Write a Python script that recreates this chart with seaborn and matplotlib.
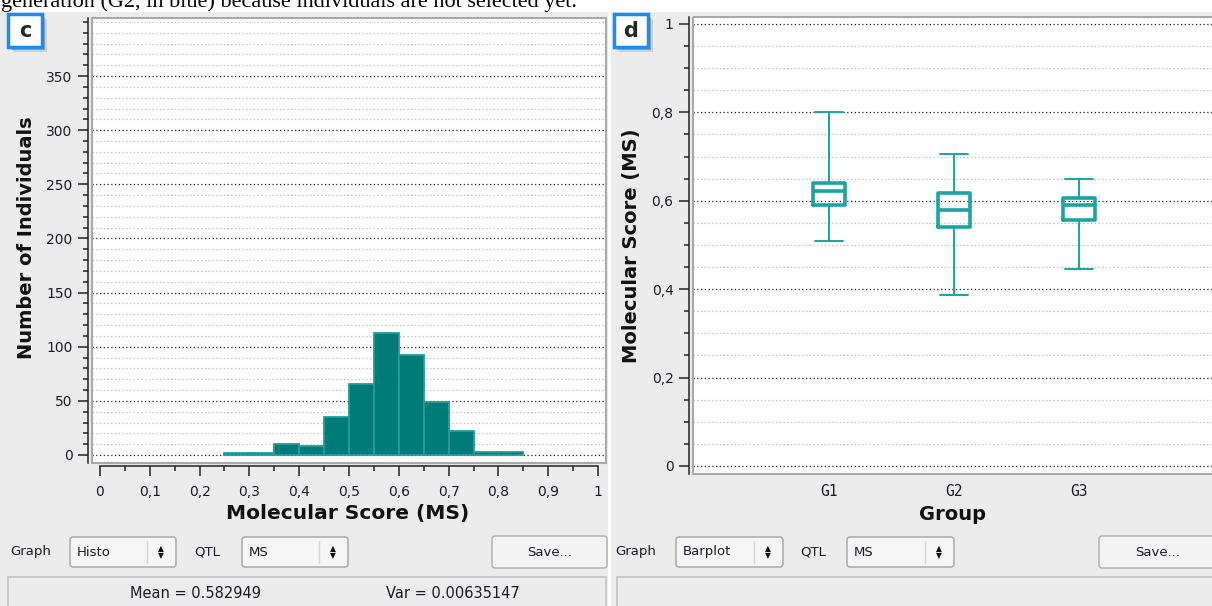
import numpy as np
import pandas as pd
import matplotlib
matplotlib.use('Agg')
import matplotlib.pyplot as plt
from matplotlib.patches import Rectangle, FancyBboxPatch
from matplotlib.ticker import FixedLocator, FixedFormatter, MultipleLocator
import seaborn as sns

# panel c: histogram of the molecular score
ms_bin_edges = [0.25, 0.30, 0.35, 0.40, 0.45, 0.50, 0.55, 0.60, 0.65, 0.70, 0.75, 0.80, 0.85]
ms_bin_mids = [0.275, 0.325, 0.375, 0.425, 0.475, 0.525, 0.575, 0.625, 0.675, 0.725, 0.775, 0.825]
ms_counts = [2, 2, 10, 8, 35, 66, 113, 92, 49, 22, 3, 3]
hist_xticks = [0, 0.1, 0.2, 0.3, 0.4, 0.5, 0.6, 0.7, 0.8, 0.9, 1]
hist_xticklabels = ['0', '0,1', '0,2', '0,3', '0,4', '0,5', '0,6', '0,7', '0,8', '0,9', '1']
hist_yticks = [0, 50, 100, 150, 200, 250, 300, 350]

# panel d: box per group (min, q1, median, q3, max)
groups = ['G1', 'G2', 'G3']
g1_ms = [0.509, 0.590, 0.622, 0.640, 0.800]
g2_ms = [0.387, 0.541, 0.579, 0.618, 0.706]
g3_ms = [0.446, 0.557, 0.591, 0.606, 0.649]
box_yticks = [0, 0.2, 0.4, 0.6, 0.8, 1]
box_yticklabels = ['0', '0,2', '0,4', '0,6', '0,8', '1']

stats_mean = 'Mean = 0.582949'
stats_var = 'Var = 0.00635147'
caption = 'generation (G2, in blue) because individuals are not selected yet.'

sns.set_style('white')
plt.rcParams['font.family'] = ['DejaVu Sans']

W, H = 1212, 606
GRAY = '#ececec'
TEAL = '#007b78'
TEAL_LIGHT = '#17a6a1'
INK = '#1c1c28'

fig = plt.figure(figsize=(W / 100, H / 100), dpi=100, facecolor=GRAY)


def px_rect(x0, y0, x1, y1):
    return [x0 / W, 1 - y1 / H, (x1 - x0) / W, (y1 - y0) / H]


def style_axis(ax):
    ax.set_facecolor('white')
    ax.grid(False)
    ax.grid(which='major', axis='y', color='#1e1e1e', linestyle=(0, (1, 2)), linewidth=0.9)
    ax.grid(which='minor', axis='y', color='#b9b9b9', linestyle=(0, (1, 2)), linewidth=0.9)
    ax.set_axisbelow(True)
    for s in ['top', 'right']:
        ax.spines[s].set_visible(False)
    ax.spines['left'].set_position(('outward', 3))
    ax.spines['left'].set_color('#222222')
    ax.spines['left'].set_linewidth(1.1)
    ax.tick_params(which='major', direction='out', length=7, width=1.1, color='#222222',
                   labelsize=10, labelcolor=INK, left=True, bottom=True)
    ax.tick_params(which='minor', direction='out', length=3.5, width=1.1, color='#222222',
                   left=True, bottom=True)
    ax.tick_params(axis='y', pad=4)


# ---- panel c: histogram
ax1 = fig.add_axes(px_rect(92, 18, 606, 463))
hist_df = pd.DataFrame({'MS': ms_bin_mids, 'count': ms_counts})
sns.histplot(data=hist_df, x='MS', weights='count', bins=ms_bin_edges, ax=ax1,
             color=TEAL, alpha=1, edgecolor='#1f9e9a', linewidth=1.3)
style_axis(ax1)
ax1.set_xlim(-0.016, 1.016)
ax1.set_ylim(-7.4, 403.6)
ax1.xaxis.set_major_locator(FixedLocator(hist_xticks))
ax1.xaxis.set_major_formatter(FixedFormatter(hist_xticklabels))
ax1.xaxis.set_minor_locator(MultipleLocator(0.05))
ax1.yaxis.set_major_locator(FixedLocator(hist_yticks))
ax1.yaxis.set_minor_locator(MultipleLocator(10))
ax1.spines['bottom'].set_position(('outward', 2.5))
ax1.spines['bottom'].set_bounds(0, 1)
ax1.spines['bottom'].set_color('#222222')
ax1.spines['bottom'].set_linewidth(1.1)
ax1.tick_params(axis='x', pad=6)
ax1.set_xlabel('Molecular Score (MS)', fontsize=14.5, fontweight='bold', color='#111111', va='center')
ax1.xaxis.set_label_coords((348 - 92) / 514, (463 - 513) / 445)
ax1.set_ylabel('Number of Individuals', fontsize=14, fontweight='bold', color='#111111', va='center')
ax1.yaxis.set_label_coords((27 - 92) / 514, (463 - 238) / 445)

# ---- panel d: box plot
ax2 = fig.add_axes(px_rect(693, 17, 1212, 474))
box_df = pd.DataFrame({'Group': np.repeat(groups, len(g1_ms)), 'MS': g1_ms + g2_ms + g3_ms})
sns.boxplot(data=box_df, x='Group', y='MS', ax=ax2, whis=(0, 100), width=0.26, fill=False,
            color=TEAL_LIGHT, linewidth=2.6, showfliers=False, capwidths=0.22,
            whiskerprops={'linewidth': 1.4}, capprops={'linewidth': 1.4})
style_axis(ax2)
ax2.set_xlim(-1.088, 3.064)
ax2.set_ylim(-0.0181, 1.0158)
ax2.yaxis.set_major_locator(FixedLocator(box_yticks))
ax2.yaxis.set_major_formatter(FixedFormatter(box_yticklabels))
ax2.yaxis.set_minor_locator(MultipleLocator(0.05))
ax2.spines['bottom'].set_visible(False)
ax2.tick_params(axis='x', which='both', length=0, pad=7)
for lbl in ax2.get_xticklabels():
    lbl.set_family('DejaVu Sans Mono')
    lbl.set_fontsize(10.5)
ax2.set_xlabel('Group', fontsize=14, fontweight='bold', color='#111111', va='center')
ax2.xaxis.set_label_coords((952 - 693) / 519, (474 - 514) / 457)
ax2.set_ylabel('Molecular Score (MS)', fontsize=14, fontweight='bold', color='#111111', va='center')
ax2.yaxis.set_label_coords((632 - 693) / 519, (474 - 246) / 457)

# ---- window chrome drawn in pixel coordinates
ov = fig.add_axes([0, 0, 1, 1])
ov.set_xlim(0, W)
ov.set_ylim(H, 0)
ov.axis('off')

ov.add_patch(Rectangle((0, 0), W, 12, facecolor='white', edgecolor='none'))
ov.text(1, 7, caption, family='Liberation Serif', fontsize=16, va='baseline', ha='left', color='black')
ov.add_patch(Rectangle((608, 12), 3, H, facecolor='white', edgecolor='none'))

ov.add_patch(Rectangle((92, 18), 514, 445, fill=False, edgecolor='#a9a9a9', lw=1.5))
ov.add_patch(Rectangle((693, 17), 525, 457, fill=False, edgecolor='#a9a9a9', lw=1.5))


def panel_tag(x0, y0, letter):
    for off, a in [(5, 0.25), (3, 0.5)]:
        ov.add_patch(Rectangle((x0 + off, y0 + off), 34, 33, facecolor='#7a7a7a', alpha=a, edgecolor='none'))
    ov.add_patch(Rectangle((x0, y0), 34, 33, facecolor='white', edgecolor='#1c8cf2', lw=2.5))
    ov.text(x0 + 17, y0 + 17, letter, ha='center', va='center', fontsize=15, fontweight='bold')


def combo(x0, x1, label):
    y0, y1 = 537, 567
    ym = (y0 + y1) / 2
    ov.add_patch(FancyBboxPatch((x0, y0), x1 - x0, y1 - y0, boxstyle='round,pad=0,rounding_size=3',
                                facecolor='#f6f6f6', edgecolor='#a3a3a3', lw=1))
    ov.plot([x1 - 29, x1 - 29], [y0 + 4, y1 - 4], color='#d6d6d6', lw=1)
    ov.text(x0 + 7, ym, label, va='center', ha='left', fontsize=9.5, color=INK)
    ov.text(x1 - 15, ym - 3.5, '\u25b2', ha='center', va='center', fontsize=5.5, color='#111111')
    ov.text(x1 - 15, ym + 3.5, '\u25bc', ha='center', va='center', fontsize=5.5, color='#111111')


def button(x0, x1, label):
    ov.add_patch(FancyBboxPatch((x0, 536), x1 - x0, 32, boxstyle='round,pad=0,rounding_size=3',
                                facecolor='#f4f4f4', edgecolor='#acacac', lw=1))
    ov.text((x0 + x1) / 2, 552, label, ha='center', va='center', fontsize=9.5, color=INK)


panel_tag(8, 14, 'c')
panel_tag(614, 14, 'd')

ov.text(10, 552, 'Graph', va='center', fontsize=9.5, color=INK)
combo(70, 176, 'Histo')
ov.text(194, 552, 'QTL', va='center', fontsize=9.5, color=INK)
combo(242, 348, 'MS')
button(492, 607, 'Save...')
ov.add_patch(Rectangle((8, 577), 598, 40, facecolor=GRAY, edgecolor='#c4c4c4', lw=1.2))
ov.text(195, 594, stats_mean, ha='center', va='center', fontsize=10.5, color=INK)
ov.text(453, 594, stats_var, ha='center', va='center', fontsize=10.5, color=INK)

ov.text(615, 552, 'Graph', va='center', fontsize=9.5, color=INK)
combo(676, 783, 'Barplot')
ov.text(800, 552, 'QTL', va='center', fontsize=9.5, color=INK)
combo(847, 954, 'MS')
button(1099, 1216, 'Save...')
ov.add_patch(Rectangle((617, 577), 600, 40, facecolor=GRAY, edgecolor='#c4c4c4', lw=1.2))

fig.savefig('out.png', dpi=100, facecolor=GRAY)
